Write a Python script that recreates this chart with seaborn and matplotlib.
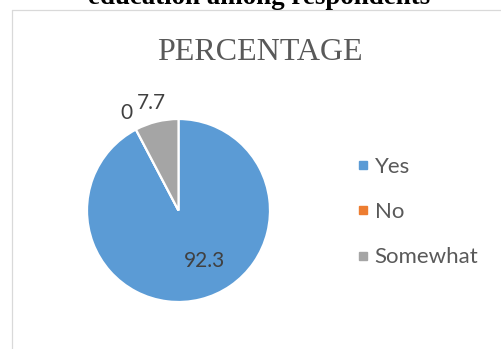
import numpy as np
import matplotlib
matplotlib.use("Agg")
import matplotlib.pyplot as plt
import seaborn as sns
from matplotlib.lines import Line2D

# Survey responses (percent of respondents)
categories = ["Yes", "No", "Somewhat"]
percentages = [92.3, 0.0, 7.7]
value_labels = ["92.3", "0", "7.7"]
chart_title = "PERCENTAGE"
heading = "education among respondents"

sns.set_theme(style="white")
plt.rcParams["font.family"] = ["Lato", "DejaVu Sans"]

palette = ["#5B9BD5", "#ED7D31", "#A5A5A5"]

W, H = 502, 349
fig = plt.figure(figsize=(W / 100, H / 100), dpi=100)
fig.patch.set_facecolor("white")


def fx(px):
    return px / W


def fy(py):
    return 1 - py / H


# Caption line above the chart box
fig.text(fx(259), fy(4), heading, ha="center", va="baseline",
         fontsize=19.4, fontweight="bold", family="Liberation Serif", color="black")

# Light chart-area border
border = "#D9D9D9"
fig.add_artist(Line2D([fx(12.5), fx(12.5)], [0, fy(9.5)], color=border, lw=0.9))
fig.add_artist(Line2D([fx(12.5), 1], [fy(9.5), fy(9.5)], color=border, lw=0.9))

# Chart title
fig.text(fx(259.5), fy(60), chart_title, ha="center", va="baseline",
         fontsize=23, family="Liberation Serif", color="#595959")

# Pie
cx, cy, r = 178.5, 210.5, 91.5
ax = fig.add_axes([fx(cx - r), fy(cy + r), 2 * r / W, 2 * r / H])
wedges, _ = ax.pie(percentages, colors=palette, startangle=90, counterclock=False,
                   wedgeprops=dict(edgecolor="white", linewidth=1.6))
ax.set_xlim(-1, 1)
ax.set_ylim(-1, 1)
ax.set_aspect("equal")
ax.axis("off")

# Data labels: large slice labelled inside, small slices outside
for w, txt, val in zip(wedges, value_labels, percentages):
    mid = np.deg2rad((w.theta1 + w.theta2) / 2)
    if val > 50:
        rad, nudge = 0.6, (9.6, 3.8)
    else:
        rad, nudge = 1.23, (0, 0)
    ax.annotate(txt, xy=(rad * np.cos(mid), rad * np.sin(mid)),
                xytext=nudge, textcoords="offset points",
                ha="center", va="center_baseline",
                fontsize=15, color="#404040", annotation_clip=False)

# Legend
handles = [Line2D([], [], marker="s", linestyle="none", markersize=6,
                  markerfacecolor=c, markeredgecolor=c) for c in palette]
fig.legend(handles, categories, loc="center left",
           bbox_to_anchor=(fx(356.5), fy(212)),
           frameon=False, fontsize=16, labelcolor="#595959",
           handlelength=0.56, handletextpad=0.26, labelspacing=1.14,
           borderpad=0, borderaxespad=0)

fig.savefig("out.png", dpi=100, facecolor="white")
